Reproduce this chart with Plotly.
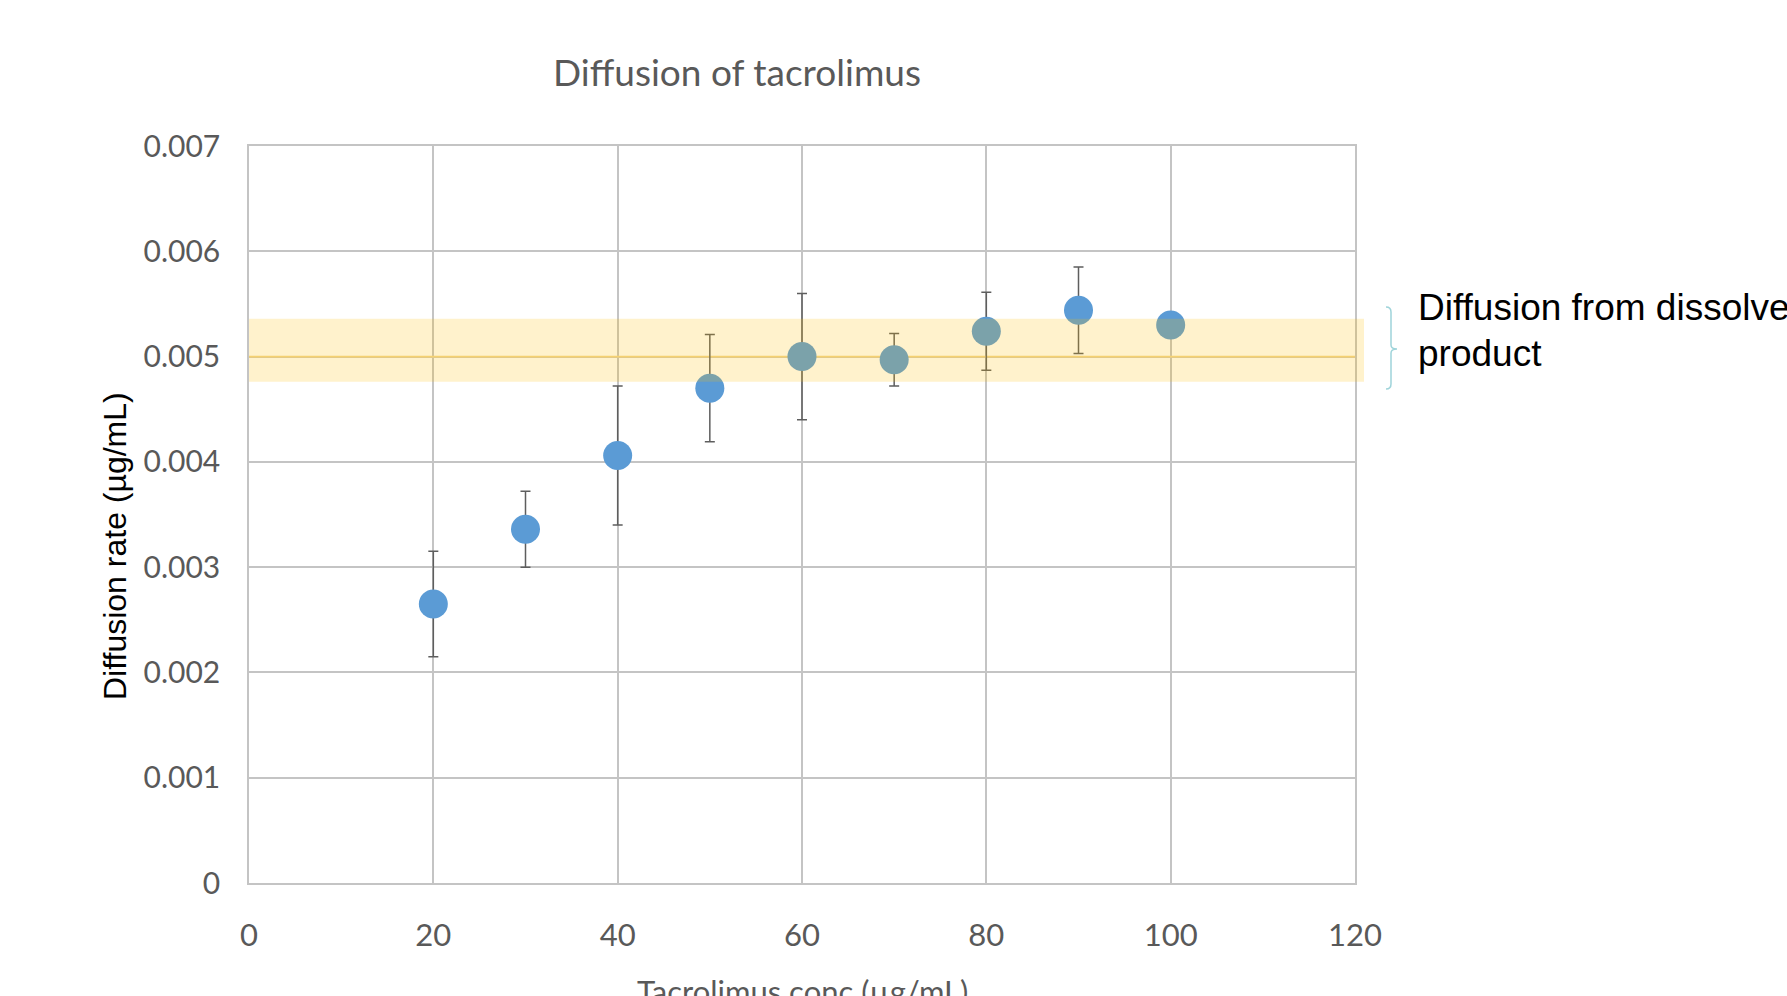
import plotly.graph_objects as go

# ---------------- data ----------------
conc = [20, 30, 40, 50, 60, 70, 80, 90, 100]
rate = [0.00265, 0.00336, 0.00406, 0.00470, 0.00500, 0.00497, 0.00524, 0.00544, 0.00530]
rate_err = [0.00050, 0.00036, 0.00066, 0.00051, 0.00060, 0.00025, 0.00037, 0.00041, 0.00010]

x_ticks = [0, 20, 40, 60, 80, 100, 120]
x_tick_labels = ["0", "20", "40", "60", "80", "100", "120"]
y_ticks = [0, 0.001, 0.002, 0.003, 0.004, 0.005, 0.006, 0.007]
y_tick_labels = ["0", "0.001", "0.002", "0.003", "0.004", "0.005", "0.006", "0.007"]

x_range = [0, 120]
band_low = 0.00476
band_high = 0.00536
band_center = 0.005

title_text = "Diffusion of tacrolimus"
x_title = "Tacrolimus conc (µg/mL)"
y_title = "Diffusion rate (µg/mL)"
band_label_lines = ["Diffusion from dissolved", "product"]

# ---------------- layout geometry ----------------
W, H = 1787, 996
L, R, T, B = 249, 432, 146, 113
PW, PH = W - L - R, H - T - B


def px(xp):
    return (xp - L) / PW


def py(yp):
    return (H - B - yp) / PH


SANS = "Lato, Roboto, sans-serif"
ARIAL = "Liberation Sans, Arial, sans-serif"
GRAY = "#595959"
GRID = "#C4C4C4"

fig = go.Figure()
# reference line at the dissolved-product level (over grid, under markers)
fig.add_trace(go.Scatter(
    x=x_range, y=[band_center, band_center], mode="lines",
    line=dict(color="#F3D68E", width=1.8), showlegend=False, hoverinfo="skip",
))
fig.add_trace(go.Scatter(
    x=conc, y=rate, mode="markers",
    marker=dict(symbol="circle", size=29, color="#5B9BD5", line=dict(width=0)),
    error_y=dict(type="data", array=rate_err, visible=True,
                 color="#5E5E5E", thickness=1.5, width=5),
    showlegend=False, hoverinfo="x+y",
))

shapes = [
    # translucent band (over markers)
    dict(type="rect", xref="paper", yref="y", x0=0, x1=px(1364), y0=band_low, y1=band_high,
         fillcolor="rgba(255,192,0,0.2)", line=dict(width=0), layer="above"),
    # curly bracket
    dict(type="path", xref="paper", yref="paper",
         path=(f"M {px(1386)},{py(307)} Q {px(1391)},{py(307)} {px(1391)},{py(312)} "
               f"L {px(1391)},{py(345)} Q {px(1391)},{py(349)} {px(1397)},{py(349)} "
               f"Q {px(1391)},{py(349)} {px(1391)},{py(353)} "
               f"L {px(1391)},{py(384)} Q {px(1391)},{py(389)} {px(1386)},{py(389)}"),
         line=dict(color="#9FD4DA", width=1.5), layer="above"),
]

annotations = [
    dict(text=y_title, xref="paper", yref="paper", x=px(115), y=py(546),
         xanchor="center", yanchor="middle", textangle=-90, showarrow=False,
         font=dict(family=ARIAL, size=32, color="#000000")),
    dict(text=x_title, xref="paper", yref="paper", x=px(802), y=py(970),
         xanchor="center", yanchor="top", showarrow=False,
         font=dict(family=SANS, size=31, color=GRAY)),
    dict(text=band_label_lines[0], xref="paper", yref="paper", x=px(1416), y=py(285),
         xanchor="left", yanchor="top", align="left", showarrow=False,
         font=dict(family=ARIAL, size=37, color="#000000")),
    dict(text=band_label_lines[1], xref="paper", yref="paper", x=px(1416), y=py(331),
         xanchor="left", yanchor="top", align="left", showarrow=False,
         font=dict(family=ARIAL, size=37, color="#000000")),
]

fig.update_layout(
    width=W, height=H,
    margin=dict(l=L, r=R, t=T, b=B, autoexpand=False),
    paper_bgcolor="white", plot_bgcolor="white",
    title=dict(text=title_text, x=737 / W, xref="container", xanchor="center",
               y=1 - 60 / H, yref="container", yanchor="top",
               font=dict(family=SANS, size=37, color=GRAY)),
    shapes=shapes, annotations=annotations,
    showlegend=False,
)

fig.update_xaxes(
    range=x_range, tickvals=x_ticks, ticktext=x_tick_labels,
    showgrid=True, gridcolor=GRID, gridwidth=1.5,
    showline=True, linecolor=GRID, linewidth=1.5, mirror=True,
    zeroline=False, ticks="", ticklabelstandoff=24,
    tickfont=dict(family=SANS, size=31, color=GRAY),
)
fig.update_yaxes(
    range=[0, 0.007], tickvals=y_ticks, ticktext=y_tick_labels,
    showgrid=True, gridcolor=GRID, gridwidth=1.5,
    showline=True, linecolor=GRID, linewidth=1.5, mirror=True,
    zeroline=False, ticks="", ticklabelstandoff=21,
    tickfont=dict(family=SANS, size=30, color=GRAY),
)

fig.write_html("out.html")
